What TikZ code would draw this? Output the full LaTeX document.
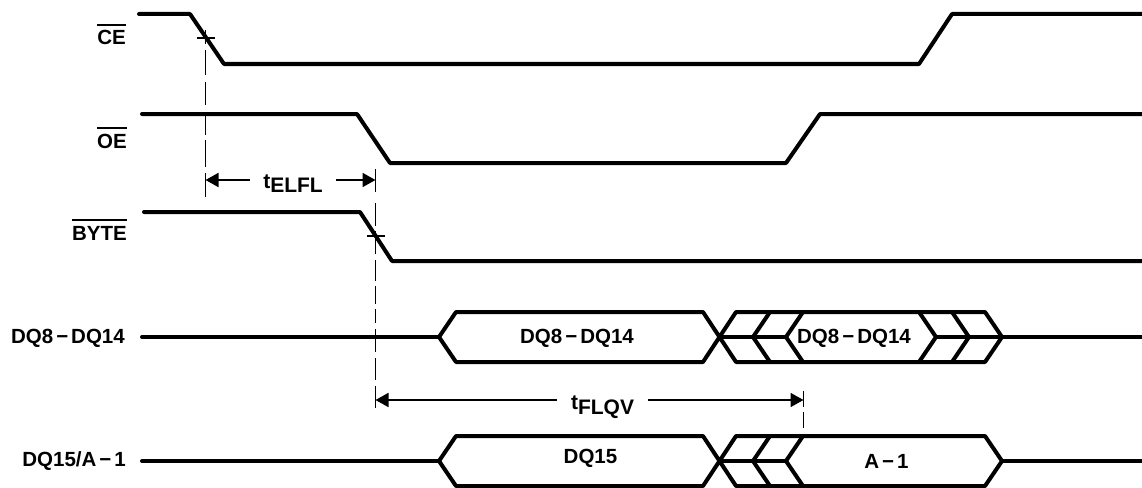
\documentclass[tikz,border=0pt]{standalone}
\usepackage{fontspec}
\setmainfont{Liberation Sans}[BoldFont={Liberation Sans Bold}]
\usetikzlibrary{arrows.meta}
\newcommand{\ovl}[1]{\vbox{\hrule height 2.4pt\kern 4.4pt\hbox{#1}}}
\newcommand{\dmin}{\kern3pt\char"2212\kern3pt}
\tikzset{
  wave/.style={line width=4pt,line cap=round,line join=round,black},
  bus/.style={line width=4pt,line cap=butt,line join=round,black},
  thin line/.style={line width=1.8pt,black},
  dimarrow/.style={line width=1.8pt,black,-{Triangle[length=13pt,width=14pt]}},
  siglabel/.style={font=\bfseries\fontsize{20.5}{20.5}\selectfont,inner sep=0pt,anchor=base east},
  buslabel/.style={font=\bfseries\fontsize{20.5}{20.5}\selectfont,inner sep=0pt,anchor=base},
  timelabel/.style={font=\bfseries\fontsize{21}{21}\selectfont,inner sep=0pt,anchor=base,text=black}
}
\begin{document}
\begin{tikzpicture}[x=1pt,y=-1pt]
\useasboundingbox (0,0) rectangle (1142,487);
% signal labels
\node[siglabel] (lce) at (126,45) {\ovl{CE}};
\node[siglabel] (loe) at (127,148) {\ovl{OE}};
\node[siglabel] (lbyte) at (127,240) {\ovl{BYTE}};
\node[siglabel] (ldq) at (125,343.5) {DQ8\dmin DQ14};
\node[siglabel] (ldqa) at (126,466.5) {DQ15/A\dmin 1};
% control waveforms
\draw[wave] (139,14) -- (190,14) -- (224,64) -- (919,64) -- (952,14) -- (1150,14);
\draw[wave] (142,114) -- (357,114) -- (390,163) -- (786,163) -- (820,114) -- (1150,114);
\draw[wave] (144,212) -- (360,212) -- (392,261) -- (1150,261);
% bus 1
\draw[wave] (142,337) -- (439,337);
\draw[bus] (703,362) -- (736,312) -- (985,312) -- (1002,337) -- (985,362) -- (736,362) -- (703,312) -- (456,312) -- (439,337) -- (456,362) -- cycle;
\draw[bus] (720,337) -- (786,337);
\draw[bus] (770,312) -- (753,337) -- (770,362);
\draw[bus] (803,312) -- (786,337) -- (803,362);
\draw[bus] (919,312) -- (936,337) -- (919,362);
\draw[bus] (952,312) -- (969,337) -- (952,362);
\draw[bus] (936,337) -- (1002,337);
\draw[bus] (1002,337) -- (1150,337);
% bus 2
\draw[wave] (142,461) -- (439,461);
\draw[bus] (703,486) -- (736,436) -- (985,436) -- (1002,461) -- (985,486) -- (736,486) -- (703,436) -- (456,436) -- (439,461) -- (456,486) -- cycle;
\draw[bus] (720,461) -- (786,461);
\draw[bus] (770,436) -- (753,461) -- (770,486);
\draw[bus] (803,436) -- (786,461) -- (803,486);
\draw[bus] (1002,461) -- (1150,461);
% bus labels
\node[buslabel] (b1) at (577,343.5) {DQ8\dmin DQ14};
\node[buslabel] (b2) at (854,343.5) {DQ8\dmin DQ14};
\node[buslabel] (b3) at (590.5,463) {DQ15};
\node[buslabel] (b4) at (886.5,468) {A\dmin 1};
% guide lines
\draw[thin line] (205.5,30) -- (205.5,44) (205.5,50) -- (205.5,75) (205.5,82) -- (205.5,105) (205.5,115) -- (205.5,135) (205.5,140) -- (205.5,167) (205.5,173) -- (205.5,197);
\draw[thin line] (197,38) -- (215,38);
\draw[thin line] (375.5,169) -- (375.5,192) (375.5,203) -- (375.5,226) (375.5,231) -- (375.5,254) (375.5,260) -- (375.5,281) (375.5,286) -- (375.5,304) (375.5,309) -- (375.5,323) (375.5,329) -- (375.5,352) (375.5,358) -- (375.5,380) (375.5,386) -- (375.5,408);
\draw[thin line] (367,236) -- (385,236);
\draw[thin line] (803.5,391) -- (803.5,407) (803.5,412) -- (803.5,428);
% timing labels
\node[timelabel,minimum width=86pt] (telfl) at (293,188) {t\raisebox{-4pt}{ELFL}};
\node[timelabel,minimum width=91pt] (tflqv) at (602.5,409.5) {t\raisebox{-4.5pt}{FLQV}};
\coordinate (e1) at (205.5,180);
\coordinate (e2) at (375.5,180);
\coordinate (f1) at (375.5,400);
\coordinate (f2) at (803.5,400);
\draw[dimarrow] (telfl.west |- e1) -- (e1);
\draw[dimarrow] (telfl.east |- e2) -- (e2);
\draw[dimarrow] (tflqv.west |- f1) -- (f1);
\draw[dimarrow] (tflqv.east |- f2) -- (f2);
\end{tikzpicture}
\end{document}
